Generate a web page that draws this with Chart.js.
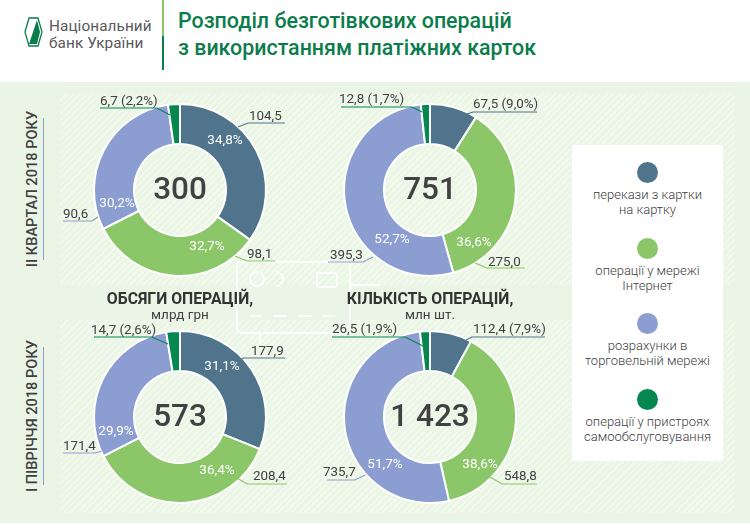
<!DOCTYPE html>
<html lang="uk">
<head>
<meta charset="utf-8">
<title>Розподіл безготівкових операцій</title>
<script src="https://cdn.jsdelivr.net/npm/chart.js@4"></script>
<style>
  html, body { margin: 0; padding: 0; }
  body { width: 750px; height: 530px; position: relative; overflow: hidden; background: #fff;
         font-family: Roboto, sans-serif; color: #414042; }
  .abs { position: absolute; white-space: nowrap; }
  .band { position: absolute; left: 0; top: 82px; width: 750px; height: 441px; background: #ebf5e6; }
  .hatch { position: absolute; left: 60px; width: 675px;
           background: repeating-linear-gradient(135deg, #f1f8ed 0, #f1f8ed 2px, #eaf5e4 2px, #eaf5e4 4.6px); }
  canvas { position: absolute; }
  .logo { left: 49px; font-size: 15.3px; line-height: 16px; color: #58595b; letter-spacing: 0.1px; }
  .title { left: 178px; font-size: 21.4px; font-weight: 500; color: #0b7c4b; line-height: 26px; }
  .side { font-size: 14.6px; font-weight: 500; color: #414042; transform: translate(-50%, -50%) rotate(-90deg); }
  .head { font-size: 15.8px; font-weight: 700; color: #333; transform: translateX(-50%); }
  .unit { font-size: 13.5px; color: #414042; transform: translateX(-50%); }
  #legend { position: absolute; left: 572px; top: 145px; width: 151px; height: 316px; background: #fff; }
  #legend .dot { position: absolute; left: 65px; width: 21px; height: 21px; border-radius: 50%; }
  #legend .txt { position: absolute; left: 0; width: 151px; text-align: center; font-size: 13px;
                 line-height: 15px; font-weight: 300; color: #414042; }
</style>
</head>
<body>
<div class="band"></div>
<div class="hatch" style="top:93px;height:192px"></div>
<div class="hatch" style="top:320px;height:193px"></div>

<!-- bank card outline behind the charts -->
<svg class="abs" style="left:0;top:0" width="750" height="530" fill="none" stroke="#fff" stroke-width="1.4">
  <rect x="237" y="262" width="113" height="71" rx="4"/>
  <circle cx="257" cy="279" r="7"/>
  <path d="M276 272a7 7 0 1 1 0 14"/>
  <rect x="317" y="273" width="20" height="14" rx="2"/>
  <path d="M250 316h11M273 316h14M298 316h14M323 316h12" />
  <path d="M260 333v12M350 285h30M350 300h12"/>
</svg>

<!-- logo -->
<svg class="abs" style="left:0;top:0" width="60" height="60">
  <path d="M29 18h9l4 14-4 14h-9l-4-14z" fill="#fff" stroke="#0b7c4b" stroke-width="1.3"/>
  <path d="M37 20l-8 24h8l3-12z" fill="#0b7c4b"/>
</svg>
<div class="abs logo" style="top:18px">Національний</div>
<div class="abs logo" style="top:35px">банк України</div>
<div class="abs" style="left:162px;top:0;width:1.5px;height:36px;background:#8bc768"></div>
<div class="abs" style="left:162px;top:36px;width:1.5px;height:34px;background:#0b7c4b"></div>
<div class="abs title" style="top:8px">Розподіл безготівкових операцій</div>
<div class="abs title" style="top:35px">з використанням платіжних карток</div>

<div class="abs side" style="left:32px;top:189px">II КВАРТАЛ 2018 РОКУ</div>
<div class="abs" style="left:42.5px;top:118px;width:1px;height:142px;background:#8c9dd1"></div>
<div class="abs side" style="left:32px;top:416px">I ПІВРІЧЧЯ 2018 РОКУ</div>
<div class="abs" style="left:42.5px;top:347px;width:1px;height:138px;background:#8c9dd1"></div>

<canvas id="c1" width="250" height="200" style="left:55px;top:90px;width:250px;height:200px"></canvas>
<canvas id="c2" width="250" height="200" style="left:305px;top:90px;width:250px;height:200px"></canvas>
<canvas id="c3" width="250" height="200" style="left:55px;top:317px;width:250px;height:200px"></canvas>
<canvas id="c4" width="250" height="200" style="left:305px;top:317px;width:250px;height:200px"></canvas>

<div class="abs head" style="left:180px;top:289px">ОБСЯГИ ОПЕРАЦІЙ,</div>
<div class="abs unit" style="left:180px;top:306px">млрд грн</div>
<div class="abs head" style="left:430px;top:289px">КІЛЬКІСТЬ ОПЕРАЦІЙ,</div>
<div class="abs unit" style="left:430px;top:306px">млн шт.</div>

<div id="legend"></div>

<script>
const categories = [
  "перекази з картки\nна картку",
  "операції у мережі\nІнтернет",
  "розрахунки в\nторговельній мережі",
  "операції у пристроях\nсамообслуговування"
];
const colors = ["#50748c", "#8bc768", "#8c9dd1", "#05874f"];

const amountQ2 = [104.5, 98.1, 90.6, 6.7];
const amountQ2Pct = [34.8, 32.7, 30.2, 2.2];
const countQ2 = [67.5, 275.0, 395.3, 12.8];
const countQ2Pct = [9.0, 36.6, 52.7, 1.7];
const amountH1 = [177.9, 208.4, 171.4, 14.7];
const amountH1Pct = [31.1, 36.4, 29.9, 2.6];
const countH1 = [112.4, 548.8, 735.7, 26.5];
const countH1Pct = [7.9, 38.6, 51.7, 1.9];

const totals = ["300", "751", "573", "1 423"];

// callouts, page coordinates: leader line points, text x, text baseline, show pct in callout
const layouts = [
  {
    id: "c1", left: 55, top: 90, values: amountQ2, pct: amountQ2Pct, total: totals[0],
    inner: [[225, 141], [207, 247], [117, 204], null],
    callouts: [
      { line: [[238, 127], [248, 123], [285, 123]], x: 249, y: 120 },
      { line: [[235, 256], [247, 261], [275, 261]], x: 247, y: 258 },
      { line: [[98, 217], [92, 221], [63, 221]], x: 63, y: 218 },
      { line: [[170, 115], [157, 108], [100, 108]], x: 100, y: 105, withPct: true }
    ]
  },
  {
    id: "c2", left: 305, top: 90, values: countQ2, pct: countQ2Pct, total: totals[1],
    inner: [null, [474, 243], [392, 240], null],
    callouts: [
      { line: [[467, 114], [473, 112], [537, 112]], x: 473, y: 108, withPct: true },
      { line: [[475, 263], [487, 268], [525, 268]], x: 488, y: 266 },
      { line: [[373, 257], [363, 262], [328, 262]], x: 330, y: 259 },
      { line: [[422, 112], [412, 107], [341, 107]], x: 339, y: 103, withPct: true }
    ]
  },
  {
    id: "c3", left: 55, top: 317, values: amountH1, pct: amountH1Pct, total: totals[2],
    inner: [[222, 367], [217, 471], [116, 432], null],
    callouts: [
      { line: [[238, 363], [243, 358], [285, 358]], x: 251, y: 355 },
      { line: [[237, 478], [247, 484], [287, 484]], x: 253, y: 480 },
      { line: [[102, 451], [95, 453], [63, 453]], x: 63, y: 450 },
      { line: [[168, 344], [152, 337], [94, 337]], x: 91, y: 334, withPct: true }
    ]
  },
  {
    id: "c4", left: 305, top: 317, values: countH1, pct: countH1Pct, total: totals[3],
    inner: [null, [480, 465], [385, 465], null],
    callouts: [
      { line: [[466, 340], [472, 337], [545, 337]], x: 473, y: 333, withPct: true },
      { line: [[490, 477], [502, 484], [537, 484]], x: 504, y: 480 },
      { line: [[365, 475], [355, 480], [327, 480]], x: 323, y: 476 },
      { line: [[423, 346], [405, 337], [332, 337]], x: 332, y: 333, withPct: true }
    ]
  }
];

const fmt = v => v.toFixed(1).replace(".", ",");

const labelsPlugin = {
  id: "labels",
  afterDraw(chart, args, opts) {
    const ctx = chart.ctx;
    const l = opts.layout;
    const area = chart.chartArea;

    ctx.save();
    ctx.textAlign = "center";
    ctx.textBaseline = "middle";
    ctx.fillStyle = "#414042";
    ctx.font = "500 31.5px Roboto";
    ctx.fillText(l.total, (area.left + area.right) / 2, (area.top + area.bottom) / 2 + 1);

    ctx.translate(-l.left, -l.top);

    ctx.fillStyle = "#fff";
    ctx.font = "13.5px Roboto";
    l.inner.forEach((p, i) => {
      if (p) ctx.fillText(fmt(l.pct[i]) + "%", p[0], p[1]);
    });

    ctx.textAlign = "left";
    ctx.textBaseline = "alphabetic";
    ctx.font = "13.4px Roboto";
    l.callouts.forEach((c, i) => {
      ctx.strokeStyle = colors[i];
      ctx.lineWidth = 1.2;
      ctx.beginPath();
      c.line.forEach((p, j) => j ? ctx.lineTo(p[0], p[1]) : ctx.moveTo(p[0], p[1]));
      ctx.stroke();
      ctx.fillStyle = "#414042";
      const text = fmt(l.values[i]) + (c.withPct ? " (" + fmt(l.pct[i]) + "%)" : "");
      ctx.fillText(text, c.x, c.y);
    });
    ctx.restore();
  }
};

layouts.forEach(l => {
  new Chart(document.getElementById(l.id), {
    type: "doughnut",
    data: {
      labels: categories,
      datasets: [{
        data: l.values,
        backgroundColor: colors,
        borderColor: "#fff",
        borderWidth: 2
      }]
    },
    options: {
      responsive: false,
      animation: false,
      radius: 86,
      cutout: "53.5%",
      plugins: {
        legend: { display: false },
        tooltip: { enabled: false },
        labels: { layout: l }
      }
    },
    plugins: [labelsPlugin]
  });
});

// legend
const legend = document.getElementById("legend");
const legendTop = [17, 93, 168, 244];
categories.forEach((c, i) => {
  const dot = document.createElement("div");
  dot.className = "dot";
  dot.style.top = legendTop[i] + "px";
  dot.style.background = colors[i];
  legend.appendChild(dot);
  const txt = document.createElement("div");
  txt.className = "txt";
  txt.style.top = legendTop[i] + 25 + "px";
  txt.innerHTML = c.replace("\n", "<br>");
  legend.appendChild(txt);
});
</script>
</body>
</html>
